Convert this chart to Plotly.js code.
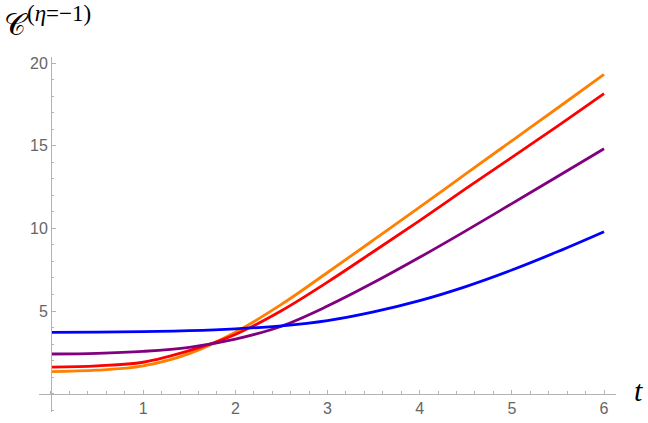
<!DOCTYPE html>
<html>
<head>
<meta charset="utf-8">
<script src="https://cdn.plot.ly/plotly-3.0.1.min.js"></script>
<style>html,body{margin:0;padding:0;background:#fff}#chart{width:648px;height:423px}</style>
</head>
<body>
<div id="chart"></div>
<script>
// data
const tValues = [0, 0.5, 1.0, 1.5, 2.0, 2.5, 3.0, 3.5, 4.0, 4.5, 5.0, 5.5, 6.0];
const orangeSeries = [1.33, 1.42, 1.68, 2.42, 3.72, 5.40, 7.33, 9.30, 11.28, 13.30, 15.30, 17.30, 19.32];
const redSeries    = [1.60, 1.68, 1.90, 2.60, 3.58, 5.02, 6.75, 8.60, 10.47, 12.40, 14.30, 16.20, 18.15];
const purpleSeries = [2.40, 2.44, 2.56, 2.80, 3.30, 4.08, 5.30, 6.72, 8.25, 9.85, 11.50, 13.15, 14.82];
const blueSeries   = [3.71, 3.72, 3.75, 3.81, 3.92, 4.10, 4.42, 4.95, 5.63, 6.48, 7.48, 8.60, 9.80];
const xTickVals = [1, 2, 3, 4, 5, 6];
const yTickVals = [5, 10, 15, 20];

const xRange = [-0.13, 6.13];
const yRange = [-1.11, 20.37];

const series = [
  {y: orangeSeries, color: '#FF8000'},
  {y: redSeries, color: '#FF0000'},
  {y: purpleSeries, color: '#800080'},
  {y: blueSeries, color: '#0000FF'}
];

const traces = series.map(s => ({
  x: tValues, y: s.y, type: 'scatter', mode: 'lines',
  line: {color: s.color, width: 2.8, shape: 'spline', smoothing: 1},
  hoverinfo: 'skip', showlegend: false
}));

const axisColor = '#b3b3b3';
const tickFont = {family: 'Liberation Sans, Arial, sans-serif', size: 16, color: '#666666'};

const layout = {
  width: 648, height: 423,
  margin: {l: 39, r: 32, t: 57, b: 11, pad: 0},
  paper_bgcolor: '#fff', plot_bgcolor: '#fff',
  showlegend: false,
  xaxis: {
    range: xRange, tickmode: 'array', tickvals: xTickVals,
    ticks: 'inside', ticklen: 4, tickwidth: 1, tickcolor: axisColor,
    showline: true, linecolor: axisColor, linewidth: 1,
    showgrid: false, zeroline: false,
    anchor: 'free', position: (0 - yRange[0]) / (yRange[1] - yRange[0]),
    tickfont: tickFont,
    minor: {tickmode: 'linear', tick0: 0, dtick: 0.2, ticks: 'inside', ticklen: 2.5, tickcolor: axisColor, showgrid: false}
  },
  yaxis: {
    range: yRange, tickmode: 'array', tickvals: yTickVals,
    ticks: 'inside', ticklen: 4, tickwidth: 1, tickcolor: axisColor,
    showline: true, linecolor: axisColor, linewidth: 1,
    showgrid: false, zeroline: false,
    anchor: 'free', position: (0 - xRange[0]) / (xRange[1] - xRange[0]),
    tickfont: tickFont,
    minor: {tickmode: 'linear', tick0: 0, dtick: 1, ticks: 'inside', ticklen: 2.5, tickcolor: axisColor, showgrid: false}
  },
  annotations: [
    {text: '𝒞', xref: 'paper', yref: 'paper', x: -39/577, y: 1 + 57/355, xanchor: 'left', yanchor: 'top',
     xshift: 2, yshift: -5, showarrow: false,
     font: {family: 'DejaVu Serif, Liberation Serif, serif', size: 30, color: '#000'}},
    {text: '(<i>η</i>=−1)', xref: 'paper', yref: 'paper', x: -39/577, y: 1 + 57/355, xanchor: 'left', yanchor: 'top',
     xshift: 25, yshift: 1, showarrow: false,
     font: {family: 'Liberation Serif, serif', size: 23, color: '#000'}},
    {text: '<i>t</i>', xref: 'paper', yref: 'paper', x: 1, y: (0 - yRange[0]) / (yRange[1] - yRange[0]),
     xanchor: 'center', yanchor: 'middle', xshift: 22, yshift: 3, showarrow: false,
     font: {family: 'Liberation Serif, serif', size: 30, color: '#000'}}
  ]
};

Plotly.newPlot('chart', traces, layout, {staticPlot: true, displayModeBar: false});
</script>
</body>
</html>
